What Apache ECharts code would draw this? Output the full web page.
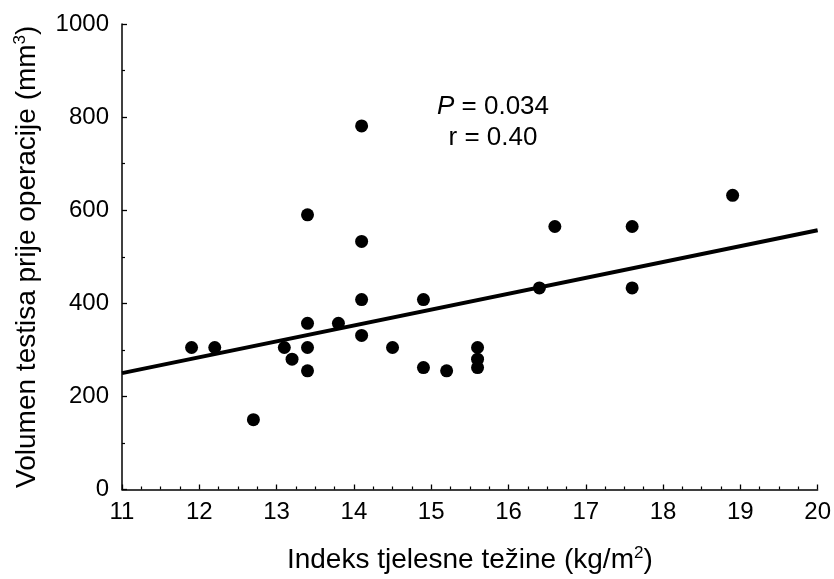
<!DOCTYPE html>
<html>
<head>
<meta charset="utf-8">
<script src="https://cdn.jsdelivr.net/npm/echarts@6/dist/echarts.min.js"></script>
<style>
html, body { margin: 0; padding: 0; background: #fff; }
#chart { width: 834px; height: 579px; }
</style>
</head>
<body>
<div id="chart"></div>
<script>
// BMI (kg/m2) vs testis volume before operation (mm3)
var bmi = [11.9, 12.2, 12.7, 13.1, 13.2, 13.4, 13.4, 13.4, 13.4, 13.8,
	14.1, 14.1, 14.1, 14.1, 14.5, 14.9, 14.9, 15.2, 15.6, 15.6,
	15.6, 16.4, 16.6, 17.6, 17.6, 18.9];
var volume = [305, 305, 150, 305, 280, 590, 357, 305, 255, 357,
	781, 533, 408, 331, 305, 408, 262, 255, 305, 280,
	262, 433, 565, 565, 433, 632];
var fitX = [11, 20];
var fitY = [250, 557];
var xTicks = [11, 12, 13, 14, 15, 16, 17, 18, 19, 20];
var yTicks = [0, 200, 400, 600, 800, 1000];

var FONT = 'Liberation Sans, Arial, Helvetica, sans-serif';

var points = [];
for (var i = 0; i < bmi.length; i++) {
	points.push([bmi[i], volume[i]]);
}
var fitLine = [];
for (var j = 0; j < fitX.length; j++) {
	fitLine.push([fitX[j], fitY[j]]);
}

var chart = echarts.init(document.getElementById('chart'));

var supStyle = { fontFamily: FONT, fontSize: 17, color: '#000', padding: [0, 0, 14, 0] };

var option = {
	animation: false,
	backgroundColor: '#fff',
	textStyle: { fontFamily: FONT, color: '#000' },
	title: {
		text: '{i|P} = 0.034\nr = 0.40',
		left: 488,
		top: 86,
		textAlign: 'center',
		textStyle: {
			fontFamily: FONT,
			fontSize: 26,
			fontWeight: 'normal',
			color: '#000',
			lineHeight: 31,
			rich: {
				i: { fontFamily: FONT, fontSize: 26, fontStyle: 'italic', color: '#000', lineHeight: 31 }
			}
		}
	},
	grid: { left: 122, right: 16, top: 24, bottom: 88 },
	xAxis: {
		type: 'value',
		min: xTicks[0],
		max: xTicks[xTicks.length - 1],
		interval: 1,
		name: 'Indeks tjelesne težine (kg/m{sup|2})',
		nameLocation: 'middle',
		nameGap: 55,
		nameTextStyle: {
			fontFamily: FONT, fontSize: 28, color: '#000',
			rich: { sup: supStyle }
		},
		axisLine: { onZero: false, lineStyle: { color: '#000', width: 1.5 } },
		axisTick: { inside: true, length: 5, lineStyle: { color: '#000', width: 1.3 } },
		minorTick: { show: true, splitNumber: 4, length: 3, lineStyle: { color: '#000', width: 1.2 } },
		axisLabel: { fontFamily: FONT, fontSize: 24, color: '#000', margin: 11 },
		splitLine: { show: false }
	},
	yAxis: {
		type: 'value',
		min: yTicks[0],
		max: yTicks[yTicks.length - 1],
		interval: 200,
		name: 'Volumen testisa prije operacije (mm{sup|3})',
		nameLocation: 'middle',
		nameGap: 79,
		nameTextStyle: {
			fontFamily: FONT, fontSize: 28, color: '#000',
			rich: { sup: supStyle }
		},
		axisLine: { onZero: false, lineStyle: { color: '#000', width: 1.5 } },
		axisTick: { inside: true, length: 5, lineStyle: { color: '#000', width: 1.3 } },
		minorTick: { show: true, splitNumber: 2, length: 3, lineStyle: { color: '#000', width: 1.2 } },
		axisLabel: {
			fontFamily: FONT, fontSize: 24, color: '#000', margin: 13,
			formatter: function (v) { return String(v); }
		},
		splitLine: { show: false }
	},
	series: [
		{
			type: 'line',
			data: fitLine,
			symbol: 'none',
			lineStyle: { color: '#000', width: 4 },
			z: 2
		},
		{
			type: 'scatter',
			data: points,
			symbol: 'circle',
			symbolSize: 13,
			itemStyle: { color: '#000', opacity: 1 },
			z: 3
		}
	]
};

chart.setOption(option);
</script>
</body>
</html>
